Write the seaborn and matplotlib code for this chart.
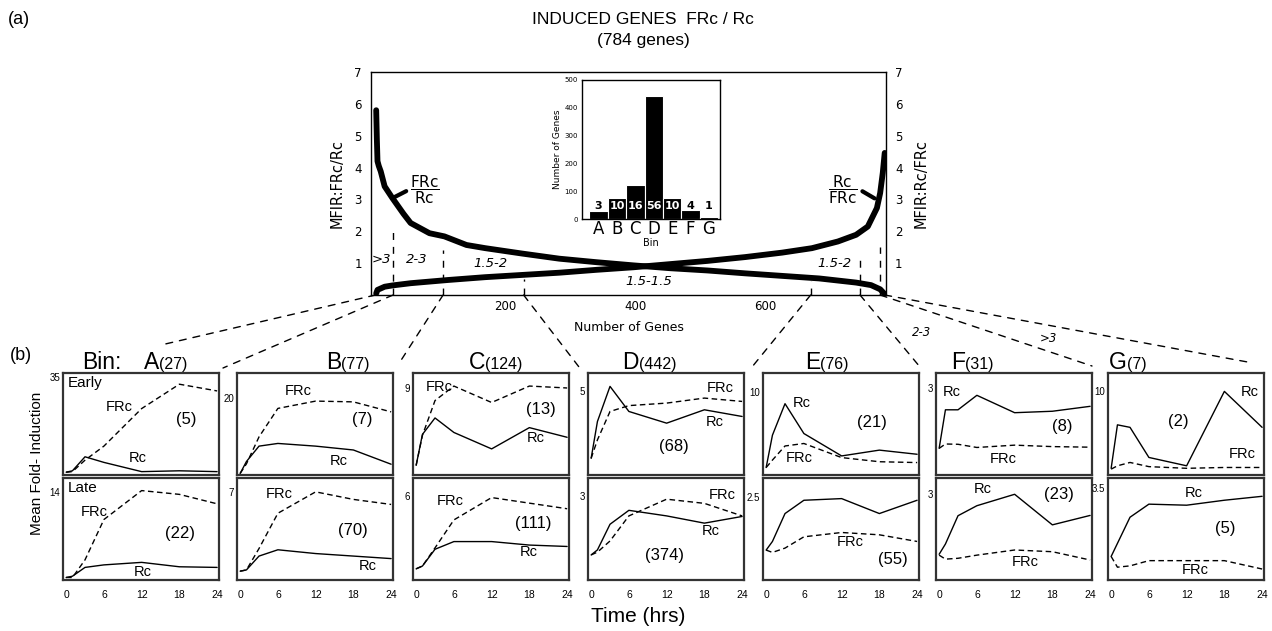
import numpy as np
import pandas as pd
import matplotlib
matplotlib.use('Agg')
import matplotlib.pyplot as plt
from matplotlib.patches import ConnectionPatch
import seaborn as sns

sns.set_theme(style='white')
plt.rcParams['font.family'] = ['DejaVu Sans']
plt.rcParams['mathtext.fontset'] = 'dejavusans'
for key in ['text.color', 'axes.labelcolor', 'xtick.color', 'ytick.color']:
    plt.rcParams[key] = 'black'

# ---------------- data ----------------
bins = ['A', 'B', 'C', 'D', 'E', 'F', 'G']
bin_counts = [27, 77, 124, 442, 76, 31, 7]
bin_percent = [3, 10, 16, 56, 10, 4, 1]
early_n = [5, 7, 13, 68, 21, 8, 2]
late_n = [22, 70, 111, 374, 55, 23, 5]

# sorted MFIR curves (panel a)
rank_down = [1, 2, 3, 5, 8, 14, 26, 43, 54, 83, 106, 140, 169, 226, 283, 340,
             397, 454, 511, 569, 626, 683, 740, 763, 777, 783]
mfir_down = [5.8, 4.9, 4.2, 4.05, 3.88, 3.41, 3.04, 2.55, 2.26, 1.94, 1.84, 1.57,
             1.47, 1.30, 1.14, 1.03, 0.93, 0.84, 0.77, 0.68, 0.60, 0.52, 0.39,
             0.31, 0.18, 0.05]
rank_up = [1, 3, 14, 26, 54, 111, 169, 226, 283, 340, 397, 454, 511, 569, 626,
           672, 712, 740, 758, 772, 777, 781, 784]
mfir_up = [0.05, 0.16, 0.26, 0.30, 0.37, 0.47, 0.56, 0.63, 0.70, 0.79, 0.87,
           0.97, 1.07, 1.19, 1.33, 1.47, 1.68, 1.89, 2.15, 2.73, 3.2, 3.83, 4.46]

# time courses (panel b)
times = [0, 1, 3, 6, 12, 18, 24]
early_frc = {'A': [1.0, 1.2, 5.3, 10.3, 23.7, 32.4, 30.0],
             'B': [0.4, 2.9, 9.9, 17.3, 19.2, 19.0, 16.4],
             'C': [1.0, 4.1, 7.7, 9.2, 7.5, 9.2, 9.0],
             'D': [1.0, 2.1, 3.8, 4.15, 4.3, 4.6, 4.4],
             'E': [0.9, 1.8, 3.5, 3.8, 2.1, 1.6, 1.5],
             'F': [0.92, 1.07, 1.06, 0.95, 1.03, 0.98, 0.96],
             'G': [0.7, 1.1, 1.5, 1.0, 0.8, 0.9, 0.9]}
early_rc = {'A': [1.0, 1.5, 6.5, 4.5, 1.2, 1.5, 1.2],
            'B': [0.4, 3.5, 7.5, 8.2, 7.5, 6.5, 2.8],
            'C': [1.0, 4.2, 5.9, 4.4, 2.7, 4.9, 3.9],
            'D': [1.0, 3.2, 5.3, 3.8, 3.1, 3.9, 3.5],
            'E': [0.9, 4.8, 8.6, 5.0, 2.3, 3.0, 2.5],
            'F': [0.92, 2.25, 2.25, 2.75, 2.15, 2.2, 2.37],
            'G': [0.8, 6.0, 5.7, 2.1, 1.1, 10.0, 5.7]}
late_frc = {'A': [0.4, 0.4, 3.2, 9.6, 14.2, 13.6, 12.1],
            'B': [0.7, 0.8, 2.5, 5.3, 7.0, 6.4, 6.0],
            'C': [0.8, 1.0, 2.3, 4.3, 5.9, 5.5, 5.1],
            'D': [0.9, 1.0, 1.4, 2.3, 2.9, 2.75, 2.3],
            'E': [0.9, 0.83, 0.96, 1.3, 1.43, 1.36, 1.16],
            'F': [0.87, 0.73, 0.76, 0.87, 1.05, 0.99, 0.7],
            'G': [0.9, 0.49, 0.54, 0.74, 0.74, 0.74, 0.42]}
late_rc = {'A': [0.4, 0.6, 2.0, 2.4, 2.8, 2.1, 2.0],
           'B': [0.7, 0.8, 1.9, 2.4, 2.1, 1.9, 1.7],
           'C': [0.8, 1.0, 2.2, 2.75, 2.75, 2.5, 2.4],
           'D': [0.9, 1.08, 2.0, 2.5, 2.3, 2.04, 2.28],
           'E': [0.9, 1.16, 2.0, 2.4, 2.45, 2.0, 2.4],
           'F': [0.9, 1.26, 2.25, 2.6, 3.0, 1.93, 2.26],
           'G': [0.9, 1.4, 2.4, 2.9, 2.86, 3.05, 3.2]}
early_ymax = [36.4, 26.5, 10.55, 6.1, 12.3, 3.52, 12.2]
late_ymax = [16.2, 8.1, 7.3, 3.66, 3.07, 3.57, 3.9]
early_tick = [35, 20, 9, 5, 10, 3, 10]
late_tick = [14, 7, 6, 3, 2.5, 3, 3.5]

# ---------------- layout ----------------
W, H = 1272, 631


def fx(px):
    return px / W


def fy(py):
    return 1 - py / H


# label positions in each small panel (axes fraction): FRc, Rc, (n)
early_pos = {'A': [(0.36, 0.67), (0.48, 0.17), (0.79, 0.54)],
             'B': [(0.39, 0.82), (0.65, 0.14), (0.80, 0.54)],
             'C': [(0.17, 0.86), (0.79, 0.36), (0.82, 0.64)],
             'D': [(0.845, 0.85), (0.81, 0.52), (0.55, 0.28)],
             'E': [(0.23, 0.17), (0.25, 0.71), (0.70, 0.51)],
             'F': [(0.43, 0.16), (0.10, 0.81), (0.81, 0.48)],
             'G': [(0.86, 0.21), (0.91, 0.81), (0.45, 0.52)]}
late_pos = {'A': [(0.20, 0.67), (0.51, 0.08), (0.75, 0.46)],
            'B': [(0.27, 0.84), (0.84, 0.14), (0.74, 0.49)],
            'C': [(0.24, 0.77), (0.74, 0.27), (0.77, 0.55)],
            'D': [(0.86, 0.83), (0.79, 0.48), (0.49, 0.24)],
            'E': [(0.56, 0.37), None, (0.83, 0.20)],
            'F': [(0.57, 0.18), (0.30, 0.89), (0.79, 0.84)],
            'G': [(0.56, 0.10), (0.55, 0.85), (0.75, 0.50)]}

fig = plt.figure(figsize=(W / 100, H / 100), dpi=100)
HELV = 'Liberation Sans'

# ---------------- panel (a) ----------------
ax = fig.add_axes([fx(371), fy(295), (886 - 371) / W, (295 - 72) / H])
sns.lineplot(x=rank_down, y=mfir_down, ax=ax, color='black', lw=4.2, sort=False)
sns.lineplot(x=rank_up, y=mfir_up, ax=ax, color='black', lw=4.2, sort=False)
ax.set_xlim(-7, 786)
ax.set_ylim(0, 7)
ax.set_yticks(range(1, 8))
ax.set_xticks([200, 400, 600])
ax.tick_params(axis='y', length=0, labelsize=8.5, pad=6.5)
ax.tick_params(axis='x', length=0, labelsize=8.5, pad=3.5)
for s in ax.spines.values():
    s.set_color('black')
    s.set_linewidth(1)
ax.set_xlabel('Number of Genes', fontsize=9, labelpad=6)
ax.set_ylabel('MFIR:FRc/Rc', fontsize=10.5, labelpad=7)

ax_r = ax.twinx()
ax_r.set_ylim(0, 7)
ax_r.set_yticks(range(1, 8))
ax_r.tick_params(axis='y', length=0, labelsize=8.5, pad=6.5)
ax_r.set_ylabel('MFIR:Rc/FRc', fontsize=10.5, labelpad=8)
for s in ax_r.spines.values():
    s.set_visible(False)

# bin boundaries
bounds = np.cumsum(bin_counts)
vline_tops = [2.0, 1.4, 0.5, 0.45, 1.2, 1.5]
ax.vlines(bounds[:6], 0, vline_tops, colors='black', lw=1, linestyles=(0, (5, 5)))

range_text = ['>3', '2-3', '1.5-2', '1.5-1.5', '1.5-2']
range_pos = [(9, 1.1), (63, 1.1), (177, 1.0), (420, 0.42), (706, 1.0)]
for t, (x, y) in zip(range_text, range_pos):
    ax.text(x, y, t, ha='center', va='center', fontsize=9.5, style='italic')

ax.text(76, 3.3, r'$\dfrac{\mathrm{FRc}}{\mathrm{Rc}}$', ha='center', va='center', fontsize=11)
ax.annotate('', xy=(26, 3.04), xytext=(51, 3.3), arrowprops=dict(arrowstyle='-', lw=3, color='black'))
ax.text(720, 3.3, r'$\dfrac{\mathrm{Rc}}{\mathrm{FRc}}$', ha='center', va='center', fontsize=11)
ax.annotate('', xy=(772, 2.99), xytext=(746, 3.3), arrowprops=dict(arrowstyle='-', lw=3, color='black'))

fig.text(fx(643), fy(19), 'INDUCED GENES  FRc / Rc', ha='center', va='center', fontsize=12.5, family=HELV)
fig.text(fx(643), fy(41), '(784 genes)', ha='center', va='center', fontsize=12.5, family=HELV)
fig.text(fx(8), fy(20), '(a)', ha='left', va='center', fontsize=13, family=HELV)
fig.text(fx(10), fy(355), '(b)', ha='left', va='center', fontsize=13, family=HELV)

# inset histogram
axin = fig.add_axes([fx(582), fy(219), (720 - 582) / W, (219 - 80) / H])
sns.barplot(x=bins, y=bin_counts, color='black', saturation=1, width=1,
            edgecolor='white', linewidth=0.8, ax=axin)
axin.set_xlim(-0.9, 6.6)
axin.set_ylim(0, 500)
axin.set_yticks(range(0, 501, 100))
axin.tick_params(axis='y', length=2, labelsize=5, pad=1)
axin.tick_params(axis='x', length=0, labelsize=12, pad=1)
axin.set_ylabel('Number of Genes', fontsize=6.5, labelpad=2)
axin.set_xlabel('Bin', fontsize=7, labelpad=0)
for s in axin.spines.values():
    s.set_color('black')
    s.set_linewidth(1)
for i, (c, p) in enumerate(zip(bin_counts, bin_percent)):
    axin.text(i, 48, str(p), ha='center', va='center', fontsize=8, fontweight='bold',
              color='white' if c > 60 else 'black')

# ---------------- panel (b) ----------------
lefts = [63, 237, 413, 588, 763, 936, 1108]
pw, ph = 156, 102
row_top = [373, 478]
title_split = [159, 341, 485, 639, 820, 965, 1127]
dash = (0, (4, 2.5))

fig.text(fx(121), fy(369), 'Bin:', ha='right', va='baseline', fontsize=16.5, family=HELV)
for i, b in enumerate(bins):
    fig.text(fx(title_split[i]), fy(369), b, ha='right', va='baseline', fontsize=16.5, family=HELV)
    fig.text(fx(title_split[i]), fy(369), f'({bin_counts[i]})', ha='left', va='baseline',
             fontsize=11.5, family=HELV)

    rows = [(early_frc[b], early_rc[b], early_n[i], early_ymax[i], early_tick[i], early_pos[b], 'Early'),
            (late_frc[b], late_rc[b], late_n[i], late_ymax[i], late_tick[i], late_pos[b], 'Late')]
    for r, (frc, rc, n, ymax, ytk, pos, phase) in enumerate(rows):
        axp = fig.add_axes([fx(lefts[i]), fy(row_top[r] + ph), pw / W, ph / H])
        sns.lineplot(x=times, y=frc, ax=axp, color='black', lw=1, linestyle=dash)
        sns.lineplot(x=times, y=rc, ax=axp, color='black', lw=1)
        axp.set_xlim(-0.5, 24.3)
        axp.set_ylim(0, ymax)
        axp.set_yticks([ytk])
        axp.set_yticklabels([f'{ytk:g}'])
        axp.tick_params(axis='y', length=0, labelsize=7, pad=2)
        if r == 1:
            axp.set_xticks([0, 6, 12, 18, 24])
            axp.tick_params(axis='x', length=0, labelsize=7.5, pad=7)
        else:
            axp.set_xticks([])
        axp.set_xlabel('')
        axp.set_ylabel('')
        for s in axp.spines.values():
            s.set_color('#333333')
            s.set_linewidth(1.6)
        for lbl in axp.get_xticklabels() + axp.get_yticklabels():
            lbl.set_fontfamily(HELV)
        if pos[0] is not None:
            axp.text(*pos[0], 'FRc', transform=axp.transAxes, ha='center', va='center',
                     fontsize=10.5, family=HELV)
        if pos[1] is not None:
            axp.text(*pos[1], 'Rc', transform=axp.transAxes, ha='center', va='center',
                     fontsize=10.5, family=HELV)
        axp.text(*pos[2], f'({n})', transform=axp.transAxes, ha='center', va='center',
                 fontsize=12, family=HELV)
        if i == 0:
            axp.text(0.03, 0.97, phase, transform=axp.transAxes, ha='left', va='top',
                     fontsize=11, family=HELV)

fig.text(fx(37), fy(463), 'Mean Fold- Induction', rotation=90, ha='center', va='center',
         fontsize=11, family=HELV)
fig.text(fx(638), fy(617), 'Time (hrs)', ha='center', va='center', fontsize=15, family=HELV)

# connector lines from gene ranks to the bin panels
starts = [0] + list(bounds)
ends_px = [(161, 345), (223, 368), (398, 365), (579, 367), (752, 367),
           (920, 367), (1092, 366), (1253, 363)]
for s0, (ex, ey) in zip(starts, ends_px):
    con = ConnectionPatch(xyA=(s0, 0), coordsA=ax.transData,
                          xyB=(fx(ex), fy(ey)), coordsB=fig.transFigure,
                          color='black', lw=1, linestyle=(0, (5, 5)))
    fig.add_artist(con)
fig.text(fx(922), fy(332), '2-3', ha='center', va='center', fontsize=8.5, style='italic')
fig.text(fx(1048), fy(338), '>3', ha='center', va='center', fontsize=8.5, style='italic')

fig.savefig('out.png', dpi=100)
